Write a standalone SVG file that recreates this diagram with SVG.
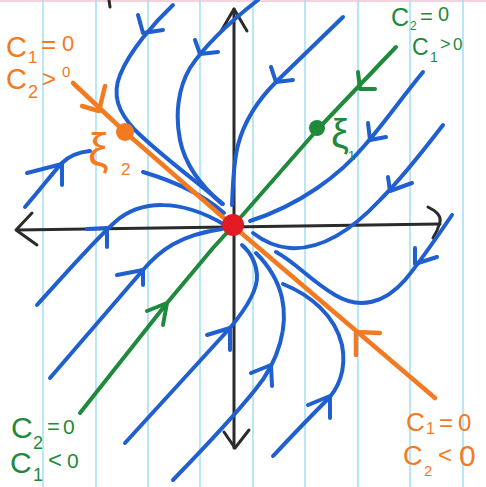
<svg xmlns="http://www.w3.org/2000/svg" width="486" height="487" viewBox="0 0 486 487">
  <style>
    .rule { stroke: #a9e1f3; stroke-width: 1.6; }
    .axis { stroke: #2b2b2b; stroke-width: 3; fill: none; stroke-linecap: round; stroke-linejoin: round; }
    .traj { stroke: #1f5fd0; stroke-width: 4; fill: none; stroke-linecap: round; stroke-linejoin: round; }
    .orange { stroke: #f47a22; stroke-width: 4.5; fill: none; stroke-linecap: round; stroke-linejoin: round; }
    .green { stroke: #1f8a3c; stroke-width: 4; fill: none; stroke-linecap: round; stroke-linejoin: round; }
    .lbl { font-family: "Liberation Sans", Arial, sans-serif; }
    .lo { fill: #f47a22; }
    .lg { fill: #1f8a3c; }
  </style>
  <rect width="486" height="487" fill="#ffffff"/>
  <g id="paper">
    <line x1="0" y1="1" x2="486" y2="1" stroke="#f4d3dd" stroke-width="2"/>
    <line class="rule" x1="43" y1="0" x2="43" y2="487"/>
    <line class="rule" x1="96" y1="0" x2="96" y2="487"/>
    <line class="rule" x1="148" y1="0" x2="148" y2="487"/>
    <line class="rule" x1="200" y1="0" x2="200" y2="487"/>
    <line class="rule" x1="253" y1="0" x2="253" y2="487"/>
    <line class="rule" x1="305" y1="0" x2="305" y2="487"/>
    <line class="rule" x1="358" y1="0" x2="358" y2="487"/>
    <line class="rule" x1="410" y1="0" x2="410" y2="487"/>
    <line class="rule" x1="463" y1="0" x2="463" y2="487"/>
  </g>
  <g id="axes">
    <path class="axis" d="M17,230 L440,224"/>
    <path class="axis" d="M32,213 L16,230 L37,245"/>
    <path class="axis" d="M428,207 Q442,214 440,222 Q438,230 433,238"/>
    <path class="axis" d="M234,9 L234,448"/>
    <path class="axis" d="M220,33 L234,9 L247,31"/>
    <path class="axis" d="M224,432 L235,448 L249,430"/>
    <path class="axis" d="M109,0 L110,7" stroke-width="2"/>
  </g>
  <g id="connectors">
    <g id="traj-A"><path class="traj" d="M173,5 C155,22 130,50 120,75 C112,95 118,112 135,130 C160,155 195,180 223,204"/><polyline class="traj" points="138,15 143,33 163,30"/></g>
    <g id="traj-B"><path class="traj" d="M258,0 C235,18 205,45 190,68 C178,88 175,115 180,140 C185,165 200,185 222,204"/><polyline class="traj" points="195,40 200,54 218,52"/></g>
    <g id="traj-C"><path class="traj" d="M343,17 L276,82 C258,100 244,122 238,145 C233,165 233,185 232,205"/><polyline class="traj" points="271,67 276,82 293,80"/></g>
    <g id="traj-D"><path class="traj" d="M423,72 C400,100 385,122 365,145 C340,175 300,205 250,221"/><polyline class="traj" points="368,123 370,140 386,137"/></g>
    <g id="traj-E"><path class="traj" d="M443,125 C420,155 400,180 380,200 C350,232 320,250 290,248 C275,247 262,240 253,233"/><polyline class="traj" points="388,177 390,191 412,183"/></g>
    <g id="traj-F"><path class="traj" d="M452,215 C435,240 420,262 405,280 C385,303 360,310 335,295 C310,280 295,262 276,252"/><polyline class="traj" points="415,248 415,264 437,257"/></g>
    <g id="traj-G"><path class="traj" d="M283,284 C310,295 335,315 342,345 C347,370 338,390 325,402 C305,422 290,438 273,456"/><polyline class="traj" points="308,405 330,396 330,418"/></g>
    <g id="traj-H"><path class="traj" d="M173,480 C205,447 235,415 255,390 C280,360 288,325 282,298 C278,280 268,265 256,253"/><polyline class="traj" points="251,373 271,365 272,386"/></g>
    <g id="traj-J"><path class="traj" d="M125,443 L230,328 C245,310 258,290 257,275 C256,262 250,252 242,245"/><polyline class="traj" points="207,335 230,328 230,350"/></g>
    <g id="traj-K"><path class="traj" d="M37,305 C60,280 90,245 115,222 C140,200 180,198 225,225"/><polyline class="traj" points="87,229 107,228 107,247"/></g>
    <g id="traj-L"><path class="traj" d="M50,378 L143,270 C160,250 180,235 222,229"/><polyline class="traj" points="117,275 143,270 143,285"/></g>
    <g id="traj-M"><path class="traj" d="M25,207 C40,190 55,170 62,163 C70,155 80,152 90,151"/><polyline class="traj" points="27,173 62,164 62,185"/></g>
    <g id="traj-N"><path class="traj" d="M143,172 C170,180 200,192 224,213"/></g>
    <g id="eig-orange"><polyline class="orange" points="73,83 125,132 233,226 435,398"/><polyline class="orange" points="82,106 99,111 105,86"/><polyline class="orange" points="356,355 356,332 380,333"/></g>
    <g id="eig-green"><polyline class="green" points="80,413 167,303 213,248 233,226 317,130 396,47"/><polyline class="green" points="358,72 360,89 375,89"/><polyline class="green" points="147,311 167,303 163,325"/></g>
  </g>
  <g id="node-origin"><circle cx="233" cy="225" r="11" fill="#e01b24"/></g>
  <g id="node-xi2">
    <circle cx="125" cy="132" r="9" fill="#f47a22"/>
    <text class="lbl lo" x="88" y="166" font-size="46" font-family="DejaVu Sans, sans-serif">ξ</text>
    <text class="lbl lo" x="121" y="175" font-size="17">2</text>
  </g>
  <g id="node-xi1">
    <circle cx="317" cy="128" r="8" fill="#1f8a3c"/>
    <text class="lbl lg" x="331" y="148" font-size="40" font-family="DejaVu Sans, sans-serif">ξ</text>
    <text class="lbl lg" x="348" y="160" font-size="13">1</text>
  </g>
  <g id="label-top-left" class="lbl lo">
    <text x="6" y="57" font-size="29">C</text><text x="28" y="63" font-size="17">1</text><text x="41" y="53" font-size="26">=</text><text x="62" y="51" font-size="22">0</text>
    <text x="6" y="89" font-size="29">C</text><text x="28" y="98" font-size="18">2</text><text x="42" y="87" font-size="24">&gt;</text><text x="62" y="77" font-size="15">0</text>
  </g>
  <g id="label-top-right" class="lbl lg">
    <text x="391" y="26" font-size="25">C</text><text x="410" y="30" font-size="12">2</text><text x="420" y="24" font-size="22">=</text><text x="438" y="21" font-size="20">0</text>
    <text x="412" y="55" font-size="23">C</text><text x="430" y="62" font-size="14">1</text><text x="440" y="50" font-size="18">&gt;</text><text x="453" y="50" font-size="17">0</text>
  </g>
  <g id="label-bottom-left" class="lbl lg">
    <text x="11" y="438" font-size="30">C</text><text x="33" y="449" font-size="18">2</text><text x="47" y="434" font-size="22">=</text><text x="63" y="434" font-size="21">0</text>
    <text x="10" y="473" font-size="30">C</text><text x="33" y="481" font-size="18">1</text><text x="48" y="468" font-size="24">&lt;</text><text x="67" y="468" font-size="21">0</text>
  </g>
  <g id="label-bottom-right" class="lbl lo">
    <text x="406" y="431" font-size="26">C</text><text x="426" y="434" font-size="16">1</text><text x="439" y="431" font-size="24">=</text><text x="458" y="431" font-size="24">0</text>
    <text x="403" y="465" font-size="27">C</text><text x="424" y="476" font-size="15">2</text><text x="438" y="463" font-size="24">&lt;</text><text x="459" y="466" font-size="30">0</text>
  </g>
</svg>
